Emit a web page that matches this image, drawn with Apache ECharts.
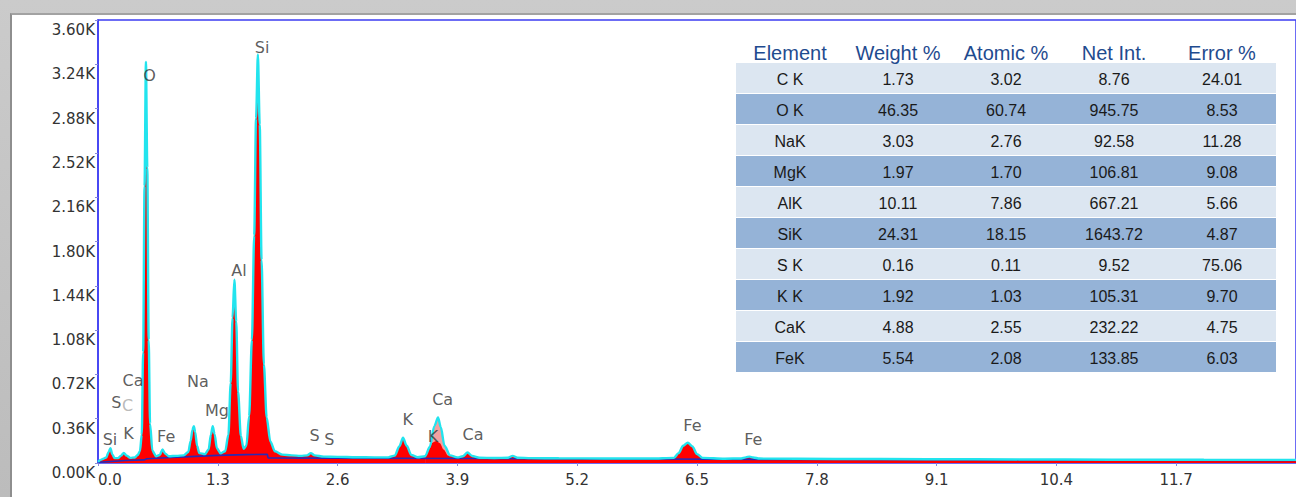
<!DOCTYPE html>
<html><head><meta charset="utf-8">
<script src="https://cdn.jsdelivr.net/npm/echarts@6.0.0/dist/echarts.min.js"></script>
<style>
html,body{margin:0;padding:0;width:1296px;height:497px;overflow:hidden;background:linear-gradient(#cbcbcb,#bcbcbc);}
#panel{position:absolute;left:10px;top:13px;width:1286px;height:484px;background:#fff;border-left:2px solid #8e8e8e;border-top:2px solid #a2a2a2;box-sizing:border-box;}
#chart{position:absolute;left:0;top:0;width:1296px;height:497px;}
</style></head><body>
<div id="panel"></div><div id="chart"></div>
<script>
// ---- data ----
const spectrum = [
[0.00,10],[0.03,25],[0.06,35],[0.09,45],[0.115,90],[0.135,120],[0.155,70],[0.18,40],
[0.22,40],[0.25,60],[0.28,82],[0.31,60],[0.35,42],
[0.40,45],[0.43,65],[0.455,95],[0.475,230],
[0.49,900],[0.505,2250],[0.52,3260],[0.535,2400],[0.55,1000],[0.565,320],[0.59,100],
[0.63,55],[0.67,65],[0.70,110],[0.73,75],[0.77,55],
[0.85,58],[0.93,62],
[0.98,90],[1.005,180],[1.025,270],[1.04,300],[1.055,250],[1.075,140],[1.10,80],
[1.16,72],
[1.20,110],[1.225,230],[1.245,300],[1.265,235],[1.29,120],[1.33,78],
[1.38,95],[1.415,230],[1.44,650],[1.46,1180],[1.48,1490],[1.50,1150],[1.52,580],[1.55,220],[1.58,115],
[1.61,140],[1.64,380],[1.67,1000],[1.695,1850],[1.715,2800],[1.735,3320],[1.755,2750],[1.775,1650],[1.80,800],[1.83,370],[1.87,175],[1.92,95],[2.00,68],
[2.10,62],[2.20,58],[2.27,62],[2.31,80],[2.35,62],[2.45,52],
[2.60,50],[2.80,47],[3.00,46],[3.15,46],
[3.22,60],[3.27,135],[3.31,205],[3.35,140],[3.40,65],[3.47,47],
[3.55,55],[3.60,130],[3.65,300],[3.69,370],[3.72,290],[3.76,140],[3.82,62],[3.90,46],
[3.96,55],[4.01,85],[4.06,57],[4.14,43],
[4.30,41],[4.45,43],[4.50,58],[4.55,43],[4.70,40],
[5.00,38],[5.50,37],[6.00,36],[6.25,42],
[6.30,80],[6.35,140],[6.40,165],[6.45,135],[6.50,72],[6.56,42],
[6.80,35],[6.98,37],[7.03,46],[7.07,52],[7.11,45],[7.18,36],
[8.00,33],[9.00,31],[10.00,29],[11.00,27],[12.00,26],[13.00,25]
];
const background = [[0.00,5],[0.30,20],[0.50,25],[0.53,35],[0.80,45],[1.00,52],[1.30,62],[1.60,68],[1.838,70],[1.845,42],[2.50,40],[4.00,36],[6.00,32],[8.00,28],[10.00,24],[13.00,20]];
const kBetaPeak = [[3.55,50],[3.59,110],[3.63,165],[3.67,178],[3.71,160],[3.75,110],[3.80,60],[3.86,45]];
const caOverlapRange = [3.55, 3.86];
const peakLabels = [
[0.13,187,'Si'],[0.33,236,'K'],[0.20,488,'S'],[0.32,471,'C'],[0.38,674,'Ca'],[0.56,3145,'O'],
[0.74,219,'Fe'],[1.085,666,'Na'],[1.29,423,'Mg'],[1.53,1568,'Al'],[1.78,3380,'Si'],
[2.35,227,'S'],[2.51,195,'S'],[3.36,350,'K'],[3.635,219,'K'],[3.74,520,'Ca'],[4.07,228,'Ca'],
[6.45,305,'Fe'],[7.11,195,'Fe']
];
const mutedLabels = ['C'];
const xMin = 0, xMax = 13.0, xStep = 1.3;
const yMin = 0, yMax = 3600, yStep = 360;
const tableHeader = ['Element','Weight %','Atomic %','Net Int.','Error %'];
const tableElements = ['C K','O K','NaK','MgK','AlK','SiK','S K','K K','CaK','FeK'];
const weightPct = ['1.73','46.35','3.03','1.97','10.11','24.31','0.16','1.92','4.88','5.54'];
const atomicPct = ['3.02','60.74','2.76','1.70','7.86','18.15','0.11','1.03','2.55','2.08'];
const netInt = ['8.76','945.75','92.58','106.81','667.21','1643.72','9.52','105.31','232.22','133.85'];
const errorPct = ['24.01','8.53','11.28','9.08','5.66','4.87','75.06','9.70','4.75','6.03'];

// ---- chart ----
const chart = echarts.init(document.getElementById('chart'), null, {renderer:'svg'});
const caOverlap = spectrum.filter(p => p[0] >= caOverlapRange[0] && p[0] <= caOverlapRange[1]);

const tableCols = [tableElements, weightPct, atomicPct, netInt, errorPct];
const tX = 736, tY = 63, colW = 108, rowH = 31;
const graphics = [];
tableElements.forEach((_, i) => {
  graphics.push({type:'rect', silent:true, z:10, shape:{x:tX, y:tY + i*rowH, width:colW*5, height:rowH-1},
    style:{fill: i % 2 === 0 ? '#dce6f1' : '#95b3d7'}});
});
tableHeader.forEach((h, c) => {
  graphics.push({type:'text', z:11, x: tX + colW*c + colW/2, y: tY - 10,
    style:{text:h, font:'20px "Liberation Sans", Arial, sans-serif', fill:'#1f4b8f', align:'center', verticalAlign:'middle', textAlign:'center', textVerticalAlign:'middle'}});
});
tableCols.forEach((col, c) => {
  col.forEach((v, i) => {
    graphics.push({type:'text', z:11, x: tX + colW*c + colW/2, y: tY + i*rowH + 16,
      style:{text:v, font:'16px "Liberation Sans", Arial, sans-serif', fill:'#1a1a1a', align:'center', verticalAlign:'middle', textAlign:'center', textVerticalAlign:'middle'}});
  });
});

const option = {
  backgroundColor: 'transparent',
  animation: false,
  grid: {left:98, top:20, right:0, bottom:34, show:true, borderColor:'#3d3df2', borderWidth:1.5, backgroundColor:'transparent'},
  xAxis: {
    type:'value', min:xMin, max:xMax, interval:xStep,
    axisLine:{show:true, lineStyle:{color:'#3d3df2', width:1.5, shadowColor:'rgba(120,90,220,0.6)', shadowOffsetY:3}},
    axisTick:{show:true, length:3, lineStyle:{color:'#8a8ad8'}},
    splitLine:{show:false},
    axisLabel:{margin:9, color:'#333', fontSize:15, fontFamily:'"DejaVu Sans", sans-serif', showMaxLabel:false, alignMinLabel:'left',
      formatter: v => v.toFixed(1)}
  },
  yAxis: {
    type:'value', min:yMin, max:yMax, interval:yStep,
    axisLine:{show:true, lineStyle:{color:'#3d3df2', width:1.5}},
    axisTick:{show:true, length:3, lineStyle:{color:'#8a8ad8'}},
    splitLine:{show:false},
    axisLabel:{margin:3, color:'#333', fontSize:15, fontFamily:'"DejaVu Sans", sans-serif', verticalAlign:'top', lineHeight:20,
      formatter: v => (v/1000).toFixed(2) + 'K'}
  },
  series: [
    {type:'line', name:'spectrumFill', data:spectrum, showSymbol:false, smooth:0.3, smoothMonotone:'x', z:2,
      lineStyle:{width:0}, areaStyle:{color:'#ff0000', opacity:1}},
    {type:'line', name:'caOverlap', data:caOverlap, showSymbol:false, smooth:0.3, smoothMonotone:'x', z:3,
      lineStyle:{width:0}, areaStyle:{color:'#f3a0a0', opacity:1}},
    {type:'line', name:'kBeta', data:kBetaPeak, showSymbol:false, smooth:0.3, smoothMonotone:'x', z:4,
      lineStyle:{width:0}, areaStyle:{color:'#ff0000', opacity:1}},
    {type:'line', name:'background', data:background, showSymbol:false, z:5,
      lineStyle:{color:'#2a2ab4', width:1.6}},
    {type:'line', name:'spectrum', data:spectrum, showSymbol:false, smooth:0.3, smoothMonotone:'x', z:6,
      lineStyle:{color:'#22e4ee', width:2.4}},
    {type:'scatter', name:'labels', z:8, symbolSize:1, itemStyle:{color:'rgba(0,0,0,0)'},
      data: peakLabels.map(p => ({value:[p[0], p[1]], name:p[2],
        label:{color: mutedLabels.includes(p[2]) ? '#a8a8a8' : '#333'}})),
      label:{show:true, position:'inside', formatter: d => d.name, fontSize:16, fontFamily:'"DejaVu Sans", sans-serif', color:'#333'}}
  ],
  graphic: graphics
};
chart.setOption(option);
</script>
</body></html>
